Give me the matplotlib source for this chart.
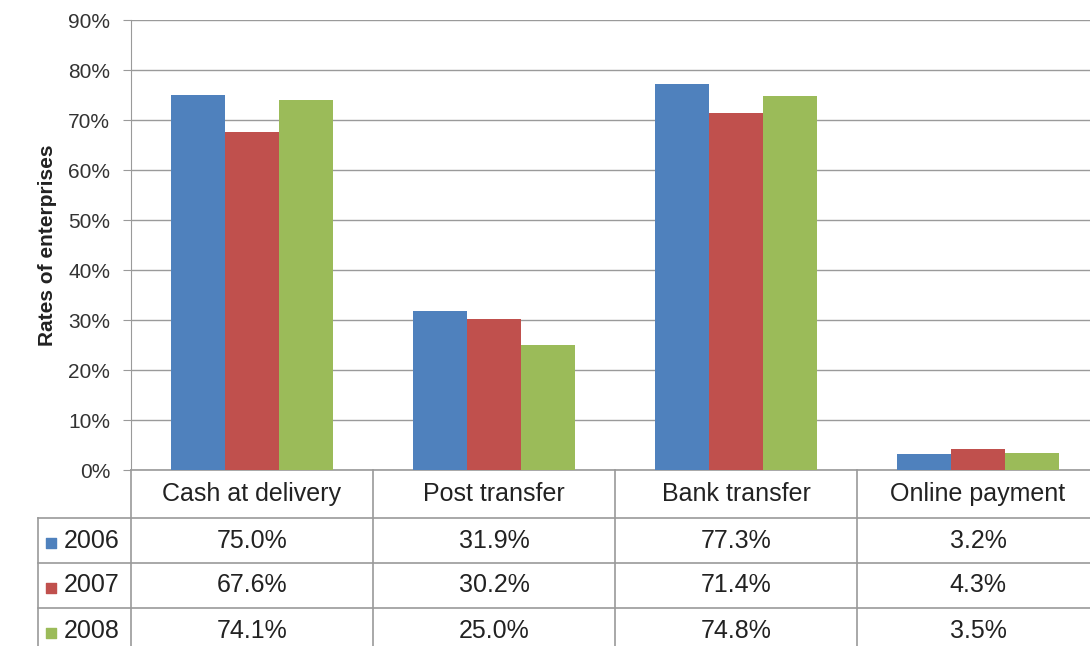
import matplotlib.pyplot as plt
import numpy as np

# data
categories = ['Cash at delivery', 'Post transfer', 'Bank transfer', 'Online payment']
years = ['2006', '2007', '2008']
rate_2006 = [75.0, 31.9, 77.3, 3.2]
rate_2007 = [67.6, 30.2, 71.4, 4.3]
rate_2008 = [74.1, 25.0, 74.8, 3.5]
y_ticks = [0, 10, 20, 30, 40, 50, 60, 70, 80, 90]

colors = ['#4F81BD', '#C0504D', '#9BBB59']
series = [rate_2006, rate_2007, rate_2008]
plt.rcParams['font.family'] = ['Liberation Sans', 'DejaVu Sans']

W, H = 1090, 646
fig = plt.figure(figsize=(W / 100, H / 100), dpi=100)
# plot area: x 131 -> 1099 px (runs off the right edge), y 20 -> 470 px
ax = fig.add_axes([131 / W, 1 - 470 / H, 968 / W, 450 / H])

x = np.arange(len(categories))
bw = 1 / 4.5
for i, vals in enumerate(series):
    ax.bar(x + (i - 1) * bw, vals, bw, color=colors[i], zorder=3)

ax.set_xlim(-0.5, len(categories) - 0.5)
ax.set_ylim(0, 90)
ax.set_yticks(y_ticks)
ax.set_yticklabels([f'{t}%' for t in y_ticks], fontsize=15, color='#333333')
ax.yaxis.grid(True, color='#9a9a9a', lw=1, zorder=0)
ax.set_xticks([])
ax.tick_params(axis='y', length=6, color='#9a9a9a', pad=9)
for s in ['top', 'right', 'bottom']:
    ax.spines[s].set_visible(False)
ax.spines['left'].set_color('#9a9a9a')
ax.set_ylabel('Rates of enterprises', fontsize=15, fontweight='bold', labelpad=8,
              color='#222222')

# data table below the plot, drawn in data-x / axes-y coordinates
tr = ax.get_xaxis_transform()
line_kw = dict(color='#9a9a9a', lw=1.2, transform=tr, clip_on=False)
row_h = 45 / 450
head_h = 48 / 450
left_x = -0.5 - 93 / 242
bottom = -head_h - 3.2 * row_h

ax.plot([-0.5, 3.5], [0, 0], **line_kw)
for r in range(3):
    y = -head_h - r * row_h
    ax.plot([left_x, 3.5], [y, y], **line_kw)
for c in range(len(categories) + 1):
    ax.plot([c - 0.5, c - 0.5], [0, bottom], **line_kw)
ax.plot([left_x, left_x], [-head_h, bottom], **line_kw)

for c, name in enumerate(categories):
    ax.text(c, -head_h / 2, name, transform=tr, ha='center', va='center',
            fontsize=18, color='#222222')
for r, vals in enumerate(series):
    yc = -head_h - (r + 0.5) * row_h
    ax.scatter([left_x + 0.055], [yc - 0.005], marker='s', s=60, color=colors[r],
               transform=tr, clip_on=False)
    ax.text(left_x + 0.105, yc, years[r], transform=tr, ha='left', va='center',
            fontsize=18, color='#222222')
    for c, v in enumerate(vals):
        ax.text(c, yc, f'{v:.1f}%', transform=tr, ha='center', va='center',
                fontsize=18, color='#222222')

fig.savefig('out.png', dpi=100)
